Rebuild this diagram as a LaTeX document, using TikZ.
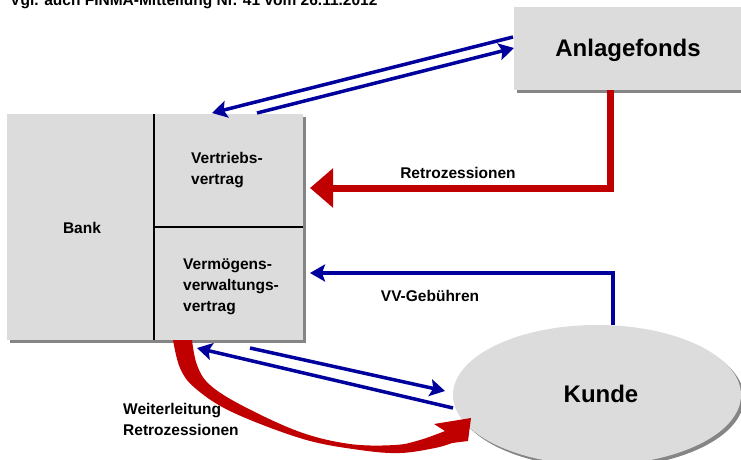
\documentclass[tikz,border=0pt]{standalone}
\usepackage{fontspec}
\setmainfont{Liberation Sans}
\usetikzlibrary{arrows.meta,shapes.geometric,calc}
\definecolor{boxgray}{HTML}{DCDCDC}
\definecolor{shadowgray}{HTML}{858585}
\definecolor{arrblue}{HTML}{00009C}
\definecolor{arrred}{HTML}{C00000}
\tikzset{
  lbl/.style={font=\bfseries\fontsize{15.5}{21}\selectfont, inner sep=0pt, align=left},
  biglbl/.style={font=\bfseries\fontsize{24}{28}\selectfont, inner sep=0pt},
  boxshape/.style={rectangle, fill=boxgray, inner sep=0pt, outer sep=0pt},
  bluearrow/.style={draw=arrblue, line width=3.5pt, -{Stealth[length=15pt,width=17pt,inset=3pt]}},
  redarrow/.style={draw=arrred, line width=7pt, -{Triangle[length=23pt,width=38pt]}},
  divider/.style={draw=black, line width=1.5pt}
}
\begin{document}
\begin{tikzpicture}[x=1pt,y=-1pt]
\useasboundingbox (0,0) rectangle (741,460);
\clip (0,0) rectangle (741,460);

% title
\node[lbl, anchor=base west] (title) at (10,6) {Vgl. auch FINMA-Mitteilung Nr. 41 vom 26.11.2012};

% shadows
\fill[shadowgray] (10,117) rectangle (306,343);
\fill[shadowgray] (517,10) rectangle (745,93);
\fill[shadowgray] (600,398) ellipse [x radius=144, y radius=70];

% boxes
\node[boxshape, minimum width=296pt, minimum height=226pt] (bank) at (155,227) {};
\node[boxshape, minimum width=228pt, minimum height=83pt] (anlage) at (628,48.5) {};
\node[ellipse, fill=boxgray, minimum width=288pt, minimum height=140pt, inner sep=0pt, outer sep=0pt] (kunde) at (597,395) {};

% dividers
\coordinate (dtop) at (154,114);
\coordinate (dbot) at (154,340);
\coordinate (hleft) at (154,227);
\draw[divider] (dtop) -- (dbot);
\draw[divider] (hleft) -- (hleft -| bank.east);

% labels
\node[lbl] (banklbl) at (82,228) {Bank};
\node[lbl, anchor=west] (vertrieb) at (191,170.5) {Vertriebs-\\vertrag};
\node[lbl, anchor=west] (vermoegen) at (183,287) {Vermögens-\\verwaltungs-\\vertrag};
\node[biglbl] (anlagelbl) at (628,50) {Anlagefonds};
\node[biglbl] (kundelbl) at (601,394) {Kunde};
\node[lbl] (retrolbl) at (458,173) {Retrozessionen};
\node[lbl] (vvlbl) at (430,296) {VV-Gebühren};
\node[lbl, anchor=west] (weiterlbl) at (123,419) {Weiterleitung\\Retrozessionen};

% connector end points
\coordinate (a1s) at (513,37);
\coordinate (a1e) at (212,113);
\coordinate (a2s) at (257,113);
\coordinate (a2e) at (514,48);
\coordinate (rtip) at (310,188);
\coordinate (vtip) at (310,273);
\coordinate (b1s) at (250,348);
\coordinate (b1e) at (445,391);
\coordinate (b2s) at (453,408);
\coordinate (b2e) at (197,348);

% blue arrows between bank and Anlagefonds
\draw[bluearrow] (a1s) -- (a1e);
\draw[bluearrow] (a2s) -- (a2e);

% Retrozessionen
\draw[redarrow] ([xshift=-18pt]anlage.south) |- (rtip);

% VV-Gebuehren
\draw[bluearrow] ([xshift=16pt]kunde.north) |- (vtip);

% blue arrows between bank and Kunde
\draw[bluearrow] (b1s) -- (b1e);
\draw[bluearrow] (b2s) -- (b2e);

% Weiterleitung curved arrow (tapered)
\fill[arrred] plot[smooth, tension=0.6] coordinates {(173,340) (180,368) (195,388) (232,412) (303,439) (360,450) (400,453) (435,448) (452,443)}
  -- (468,441) -- (471,418) -- (434,424)
  -- plot[smooth, tension=0.6] coordinates {(445,431) (420,440) (395,445) (350,444) (300,432) (243,406) (210,385) (197,365) (192,340)}
  -- cycle;
\end{tikzpicture}
\end{document}
